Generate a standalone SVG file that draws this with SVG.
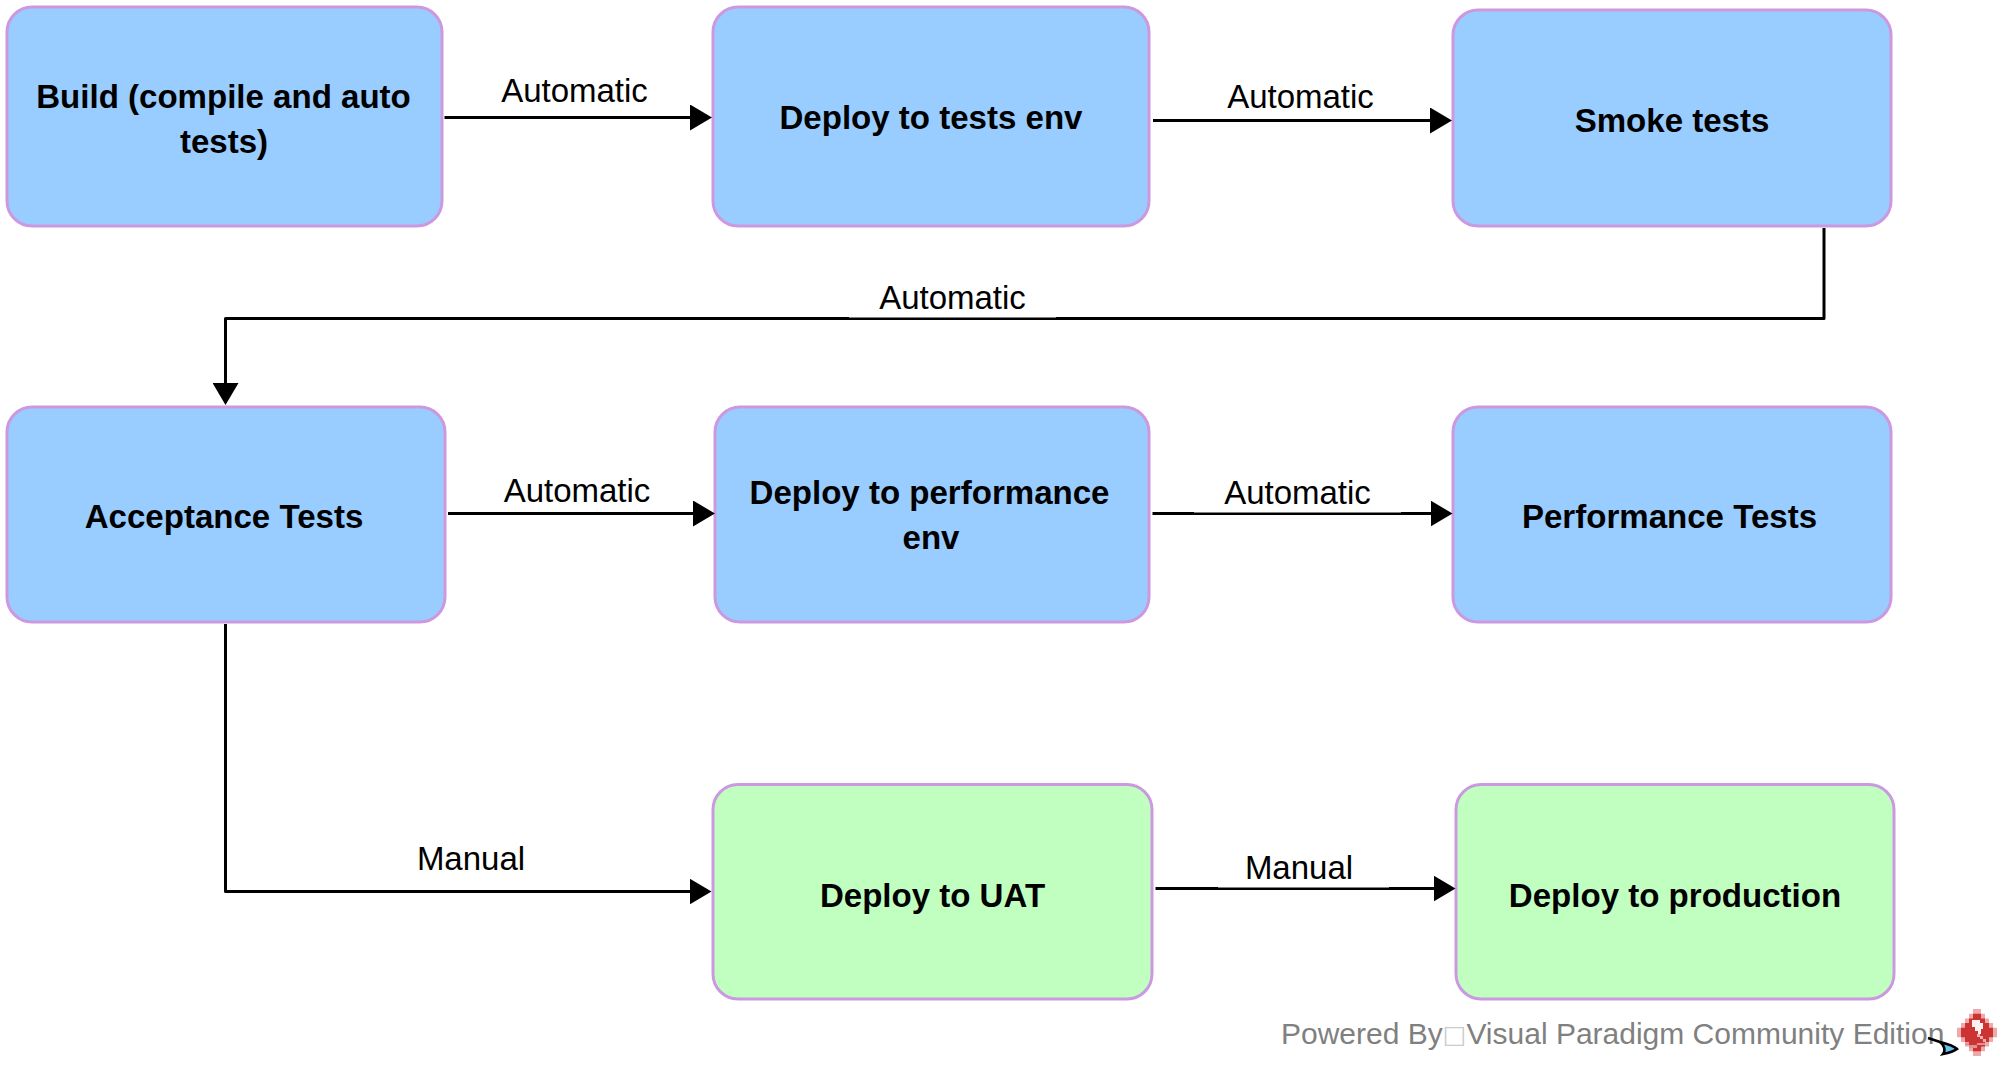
<svg xmlns="http://www.w3.org/2000/svg" width="2013" height="1083" viewBox="0 0 2013 1083">
<style>
.box{stroke:#cc99e0;stroke-width:3}
.blue{fill:#99ccff}
.green{fill:#c0ffc0}
.n{font:bold 33.05px "Liberation Sans",Arial,sans-serif;fill:#000;text-anchor:middle}
.l{font:33px "Liberation Sans",Arial,sans-serif;fill:#000;text-anchor:middle}
.c{fill:none;stroke:#000;stroke-width:3;stroke-linejoin:round;marker-end:url(#arrow)}
.f{font:30px "Liberation Sans",Arial,sans-serif;fill:#808080}
</style>
<defs>
<marker id="arrow" markerUnits="userSpaceOnUse" markerWidth="22" markerHeight="26" refX="12" refY="13" orient="auto" viewBox="0 0 22 26"><path d="M0 0L22 13L0 26Z" fill="#000"/></marker>
</defs>
<rect width="2013" height="1083" fill="#fff"/>
<g id="n1"><rect class="box blue" x="7" y="7" width="435" height="219" rx="25"/><text class="n" x="223.5" y="108">Build (compile and auto</text><text class="n" x="224" y="153">tests)</text></g>
<g id="n2"><rect class="box blue" x="713" y="7" width="436" height="219" rx="25"/><text class="n" x="931" y="129">Deploy to tests env</text></g>
<g id="n3"><rect class="box blue" x="1453" y="10" width="438" height="216" rx="25"/><text class="n" x="1672" y="132">Smoke tests</text></g>
<g id="n4"><rect class="box blue" x="7" y="407" width="438" height="215" rx="25"/><text class="n" x="224" y="528">Acceptance Tests</text></g>
<g id="n5"><rect class="box blue" x="715" y="407" width="434" height="215" rx="25"/><text class="n" x="929.5" y="504">Deploy to performance</text><text class="n" x="931" y="549">env</text></g>
<g id="n6"><rect class="box blue" x="1453" y="407" width="438" height="215" rx="25"/><text class="n" x="1669.5" y="528">Performance Tests</text></g>
<g id="n7"><rect class="box green" x="713" y="784.5" width="439" height="214.5" rx="25"/><text class="n" x="932.5" y="907">Deploy to UAT</text></g>
<g id="n8"><rect class="box green" x="1456" y="784.5" width="438" height="214.5" rx="25"/><text class="n" x="1675" y="907">Deploy to production</text></g>
<g id="connectors">
<path class="c" d="M444.5 117.5H702"/>
<path class="c" d="M1153 120.5H1442"/>
<path class="c" d="M1824 228V318.5H225.5V395"/>
<path class="c" d="M448 513.5H705"/>
<path class="c" d="M1152.5 513.5H1442.5"/>
<path class="c" d="M225.5 624V891.5H701.5"/>
<path class="c" d="M1155.5 888.5H1445.5"/>
<rect x="849" y="316" width="207" height="1.5" fill="#fff"/>
<rect x="1194" y="511" width="207" height="1.5" fill="#fff"/>
<rect x="1218" y="886" width="171" height="1.5" fill="#fff"/>
<text class="l" x="574.5" y="102">Automatic</text>
<text class="l" x="1300.5" y="108">Automatic</text>
<text class="l" x="952.5" y="309">Automatic</text>
<text class="l" x="577" y="502">Automatic</text>
<text class="l" x="1297.5" y="504">Automatic</text>
<text class="l" x="471" y="870">Manual</text>
<text class="l" x="1299" y="879">Manual</text>
</g>
<g id="footer">
<text class="f" x="1281" y="1044">Powered By<tspan fill="#cccccc" dy="-1.5" style="font-family:'DejaVu Sans',sans-serif;font-size:25px">□</tspan><tspan dy="1.5">Visual Paradigm Community Edition</tspan></text>
<g id="logo">
<path d="M1973 1009h8v4.7h4v4.7h4v4.7h4v4.7h4v9.4h-4v4.7h-4v4.7h-4v4.7h-4v4.7h-8v-4.7h-4v-4.7h-4v-4.7h-4v-4.7h-4v-9.4h4v-4.7h4v-4.7h4v-4.7h4z" fill="#eeaaaa"/>
<path d="M1973 1013.7h8v4.7h4v4.7h4v4.7h4v9.4h-4v4.7h-4v4.7h-4v4.7h-8v-4.7h-4v-4.7h-4v-4.7h-4v-9.4h4v-4.7h4v-4.7h4z" fill="#cc3333"/>
<path d="M1972 1020h8v3h3v6h-2v5h-3v-3h-3v-4h-3z" fill="#fdf0f0"/>
<path d="M1977 1034h3v2h3v3h3v3h-3v-3h-3v-2h-3z" fill="#eeb0b0"/>
<path d="M1965 1043h4v2h8v-2h8v2h-8v3h-8v-3h-4z" fill="#e58f8f"/>
</g>
<path id="cursor" d="M1928 1038L1940 1042C1948 1044 1954 1046 1957 1049C1953 1052 1948 1053 1943 1054C1946 1050 1944 1045 1940 1042" fill="#66c2f0" stroke="#000" stroke-width="2.6"/>
</g>
</svg>
